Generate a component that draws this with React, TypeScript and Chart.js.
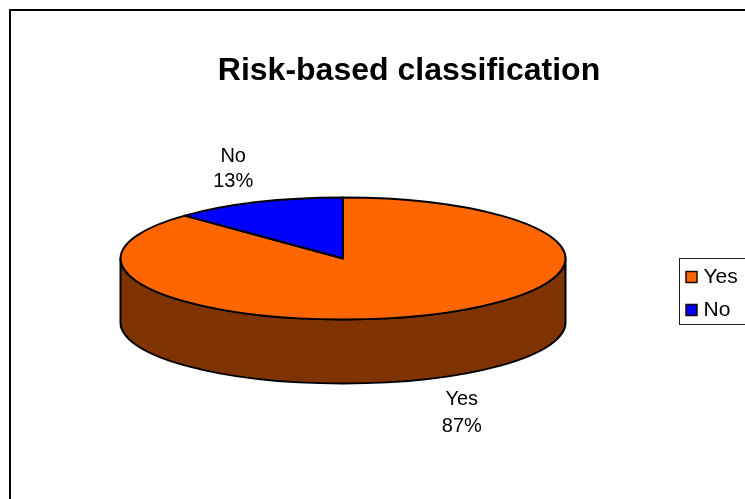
import React, { useEffect, useRef } from "react";
import { Chart, registerables } from "chart.js";

Chart.register(...registerables);

const titleText = "Risk-based classification";
const categories = ["Yes", "No"];
const seriesValues = [87.4, 12.6];
const sliceColors = ["#FF6600", "#0000FF"];
const wallColors = ["#7F3300", "#00007F"];
const labelNudges = [[33, 34], [-24, -33]];
const labelGaps = [27, 25];

const FONT = "'Liberation Sans', Arial, sans-serif";
const CENTER_X = 343;
const CENTER_Y = 258.5;
const RADIUS_X = 222.5;
const RADIUS_Y = 61;
const DEPTH = 64;
const TITLE_SHIFT = 36.5;

const pie3d = {
  id: "pie3d",
  beforeDraw(chart: any) {
    const { ctx } = chart;
    ctx.save();
    ctx.fillStyle = "#fff";
    ctx.fillRect(0, 0, chart.width, chart.height);
    ctx.strokeStyle = "#000";
    ctx.lineWidth = 2;
    ctx.strokeRect(10, 10, chart.width + 50, chart.height + 50);
    ctx.lineWidth = 1;
    ctx.strokeStyle = "#222";
    ctx.strokeRect(679.5, 258.5, 100, 66);
    ctx.restore();
  },
  afterLayout(chart: any) {
    const l = chart.legend;
    l.left = 678;
    l.right = 780;
    l.top = 254.5;
    l.bottom = chart.height;
    const t = chart.titleBlock;
    t.left += TITLE_SHIFT;
    t.right += TITLE_SHIFT;
  },
  beforeDatasetsDraw(chart: any) {
    const { ctx } = chart;
    const arcs = chart.getDatasetMeta(0).data;
    ctx.save();
    ctx.lineWidth = 2;
    ctx.strokeStyle = "#000";
    ctx.lineJoin = "round";
    arcs.forEach((arc: any, i: number) => {
      const lo = Math.max(arc.startAngle, 0);
      const hi = Math.min(arc.endAngle, Math.PI);
      if (hi <= lo) return;
      ctx.beginPath();
      ctx.ellipse(CENTER_X, CENTER_Y, RADIUS_X, RADIUS_Y, 0, lo, hi);
      ctx.ellipse(CENTER_X, CENTER_Y + DEPTH, RADIUS_X, RADIUS_Y, 0, hi, lo, true);
      ctx.closePath();
      ctx.fillStyle = wallColors[i];
      ctx.fill();
      ctx.stroke();
    });
    ctx.restore();
    const first = arcs[0];
    ctx.save();
    ctx.translate(CENTER_X, CENTER_Y);
    ctx.scale(RADIUS_X / first.outerRadius, RADIUS_Y / first.outerRadius);
    ctx.translate(-first.x, -first.y);
  },
  afterDatasetsDraw(chart: any) {
    const { ctx } = chart;
    ctx.restore();
    const arcs = chart.getDatasetMeta(0).data;
    ctx.save();
    ctx.lineWidth = 2;
    ctx.strokeStyle = "#000";
    ctx.lineJoin = "round";
    arcs.forEach((arc: any) => {
      ctx.beginPath();
      ctx.moveTo(CENTER_X, CENTER_Y);
      ctx.ellipse(CENTER_X, CENTER_Y, RADIUS_X, RADIUS_Y, 0, arc.startAngle, arc.endAngle);
      ctx.closePath();
      ctx.stroke();
    });
    ctx.fillStyle = "#000";
    ctx.font = `20px ${FONT}`;
    ctx.textAlign = "center";
    ctx.textBaseline = "middle";
    const total = seriesValues.reduce((a, b) => a + b, 0);
    arcs.forEach((arc: any, i: number) => {
      const mid = (arc.startAngle + arc.endAngle) / 2;
      const sin = Math.sin(mid);
      const ax = CENTER_X + Math.cos(mid) * RADIUS_X;
      const ay = CENTER_Y + sin * RADIUS_Y + (sin > 0 ? DEPTH : 0);
      const x = ax + labelNudges[i][0];
      const y = ay + labelNudges[i][1];
      ctx.fillText(categories[i], x, y - labelGaps[i] / 2);
      ctx.fillText(`${Math.round((seriesValues[i] / total) * 100)}%`, x, y + labelGaps[i] / 2);
    });
    ctx.restore();
  },
};

export default function App() {
  const ref = useRef<HTMLCanvasElement>(null);
  useEffect(() => {
    const chart = new Chart(ref.current as HTMLCanvasElement, {
      type: "pie",
      data: {
        labels: categories,
        datasets: [
          {
            data: seriesValues,
            backgroundColor: sliceColors,
            borderWidth: 0,
            clip: false,
          } as any,
        ],
      },
      options: {
        responsive: false,
        animation: false,
        plugins: {
          title: {
            display: true,
            text: titleText,
            color: "#000",
            font: { family: FONT, size: 32, weight: "bold" },
            padding: { top: 52, bottom: 10 },
          },
          legend: {
            display: true,
            position: "right",
            align: "start",
            labels: {
              color: "#000",
              font: { family: FONT, size: 21 },
              usePointStyle: true,
              boxWidth: 3,
              boxHeight: 11,
              padding: 12,
              generateLabels: (c: any) =>
                (Chart as any).overrides.doughnut.plugins.legend.labels
                  .generateLabels(c)
                  .map((item: any) => ({
                    ...item,
                    pointStyle: "rect",
                    lineWidth: 1.5,
                    strokeStyle: "#1a0a00",
                  })),
            },
          },
          tooltip: { enabled: false },
        },
      },
      plugins: [pie3d],
    } as any);
    return () => chart.destroy();
  }, []);
  return (
    <canvas
      ref={ref}
      width={745}
      height={499}
      style={{ position: "absolute", left: 0, top: 0, display: "block" }}
    />
  );
}
